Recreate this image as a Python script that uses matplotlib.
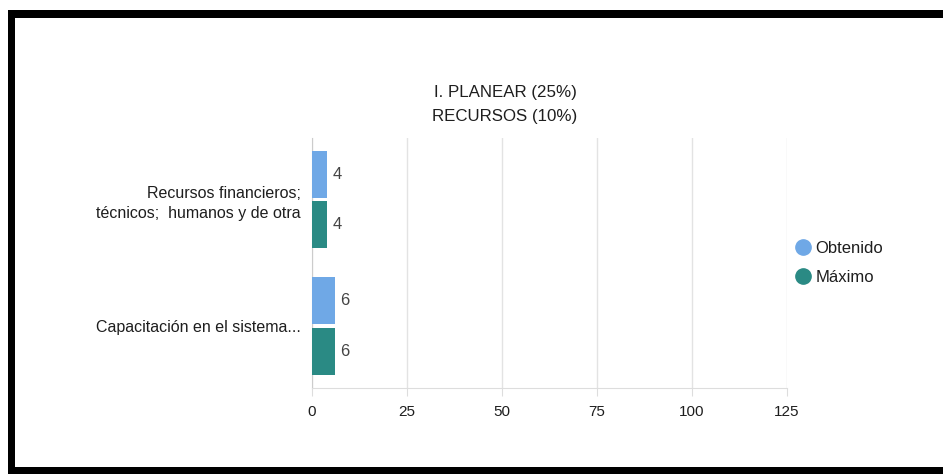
import matplotlib.pyplot as plt
import matplotlib.patches as patches
from matplotlib.lines import Line2D
import numpy as np

plt.rcParams['font.family'] = ['Liberation Sans', 'DejaVu Sans']

# Data
categories = ["Recursos financieros;\ntécnicos;  humanos y de otra",
              "Capacitación en el sistema..."]
obtenido = [4, 6]
maximo = [4, 6]
series_names = ["Obtenido", "Máximo"]
x_ticks = [0, 25, 50, 75, 100, 125]

C_OBT = "#6fa8e6"
C_MAX = "#2a8a84"
TXT = "#1e1e1e"

W, H = 943, 474
fig = plt.figure(figsize=(W / 100, H / 100), dpi=100)
fig.patch.set_facecolor("white")

# screenshot frame (black border on top, left and bottom)
for (x0, y0, w, h) in [(8, 10, 935, 8), (8, 10, 7, 464), (8, 467, 935, 7)]:
    fig.add_artist(patches.Rectangle((x0 / W, 1 - (y0 + h) / H), w / W, h / H,
                                     transform=fig.transFigure,
                                     facecolor="black", edgecolor="none"))

ax = fig.add_axes([312 / W, 1 - 388 / H, 475 / W, 250 / H])

y = np.arange(len(categories))
bh = 0.3715
off = 0.199
ax.barh(y - off, obtenido, height=bh, color=C_OBT, zorder=3)
ax.barh(y + off, maximo, height=bh, color=C_MAX, zorder=3)

for yi, v in zip(y - off, obtenido):
    ax.text(v + 1.3, yi, str(v), va="center", ha="left", fontsize=12, color="#444444")
for yi, v in zip(y + off, maximo):
    ax.text(v + 1.3, yi, str(v), va="center", ha="left", fontsize=12, color="#444444")

ax.set_xlim(0, 125)
ax.set_ylim(1.49, -0.486)
ax.set_xticks(x_ticks)
ax.set_xticklabels([str(t) for t in x_ticks], fontsize=11, color=TXT)
ax.set_yticks(y)
ax.set_yticklabels(categories, fontsize=11.5, color=TXT, ha="right",
                   linespacing=1.45)
ax.tick_params(axis="y", length=0, pad=8)
ax.tick_params(axis="x", length=6, color="#dddddd", pad=6)
ax.grid(axis="x", color="#e3e3e3", linewidth=1, zorder=0)
for s in ["top", "right"]:
    ax.spines[s].set_visible(False)
ax.spines["left"].set_color("#cccccc")
ax.spines["bottom"].set_color("#dddddd")

fig.text(505 / W, 1 - 93 / H, "I. PLANEAR (25%)", ha="center", va="center",
         fontsize=12.2, color=TXT)
fig.text(505 / W, 1 - 116 / H, "RECURSOS (10%)", ha="center", va="center",
         fontsize=12.2, color=TXT)

handles = [Line2D([], [], marker="o", linestyle="none", markersize=11,
                  markerfacecolor=c, markeredgecolor=c)
           for c in (C_OBT, C_MAX)]
fig.legend(handles, series_names, loc="center left",
           bbox_to_anchor=(778 / W, 1 - 263 / H), frameon=False,
           fontsize=12, handletextpad=0.15, labelspacing=0.85,
           handlelength=1.2, labelcolor=TXT)

fig.savefig("out.png", dpi=100, facecolor="white")
